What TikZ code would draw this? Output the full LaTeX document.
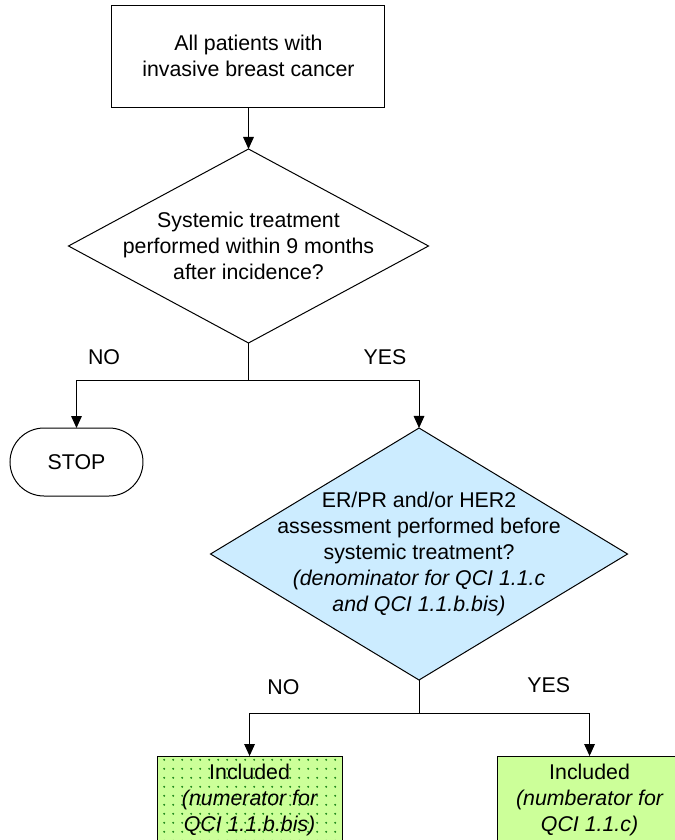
\documentclass[tikz,border=0pt]{standalone}
\usepackage{fontspec}
\setmainfont{Liberation Sans}
\usetikzlibrary{arrows.meta,positioning,shapes.geometric,patterns.meta}
\definecolor{paleblue}{RGB}{204,236,255}
\definecolor{palegreen}{RGB}{204,255,153}
\definecolor{dotgreen}{RGB}{20,130,20}

\begin{document}
\begin{tikzpicture}[
      every node/.style={font=\fontsize{16pt}{19.5pt}\selectfont},
      box/.style={draw, line width=0.75pt, outer sep=0pt, align=center,
                  minimum width=204.75pt, minimum height=76.5pt},
      decision/.style={draw, diamond, line width=0.75pt, outer sep=0pt, inner sep=0pt},
      stopbox/.style={draw, line width=0.75pt, outer sep=0pt, rounded corners=25.5pt,
                  minimum width=99.75pt, minimum height=51pt},
      result/.style={draw, line width=0.75pt, outer sep=0pt, align=center,
                  minimum width=138.75pt, minimum height=66pt, fill=palegreen},
      arr/.style={-{Triangle[width=8pt,length=9pt]}, line width=0.75pt},
      lin/.style={line width=0.75pt}
    ]
      \useasboundingbox (-186.375pt,42pt) rectangle (319.875pt,-588pt);
      \clip (-186.375pt,42pt) rectangle (319.875pt,-588pt);

      \node[box] (start) {All patients with\\invasive breast cancer};
      \node[decision, minimum width=270pt, minimum height=145.5pt,
            below=31.5pt of start] (treat) {};
      \node[align=center] (treattxt) at (treat)
        {Systemic treatment\\performed within 9 months\\after incidence?};
      \coordinate[below=27.75pt of treat] (split1);

      \node[stopbox, below=36pt of split1, xshift=-129pt] (stop) {STOP};
      \node[decision, fill=paleblue, minimum width=312.75pt, minimum height=189pt,
            below=36pt of split1, xshift=127.9pt] (check) {};
      \node[align=center] (checktxt) at (check)
        {ER/PR and/or HER2\\assessment performed before\\systemic treatment?\\
         \itshape(denominator for QCI 1.1.c\\\itshape and QCI 1.1.b.bis)};
      \coordinate[below=24.75pt of check] (split2);

      % the two end results
      \node[result, below=32.25pt of split2, xshift=-127.1pt,
            preaction={fill=palegreen},
            pattern={Dots[distance=6.5pt, radius=0.85pt]}, pattern color=dotgreen] (bisbox)
        {Included\\\itshape(numerator for\\\itshape QCI 1.1.b.bis)};
      \node[result, below=32.25pt of split2, xshift=127.9pt] (cbox)
        {Included\\\itshape(numberator for\\\itshape QCI 1.1.c)};

      \draw[arr] (start) -- (treat);
      \draw[lin] (treat) -- (split1);
      \draw[arr] (split1) -| node[pos=0.42, yshift=17.5pt] {NO} (stop);
      \draw[arr] (split1) -| node[pos=0.40, yshift=17.5pt] {YES} (check);
      \draw[lin] (check) -- (split2);
      \draw[arr] (split2) -| node[pos=0.40, yshift=19.5pt] {NO} (bisbox);
      \draw[arr] (split2) -| node[pos=0.38, yshift=21pt] {YES} (cbox);
    \end{tikzpicture}
\end{document}
